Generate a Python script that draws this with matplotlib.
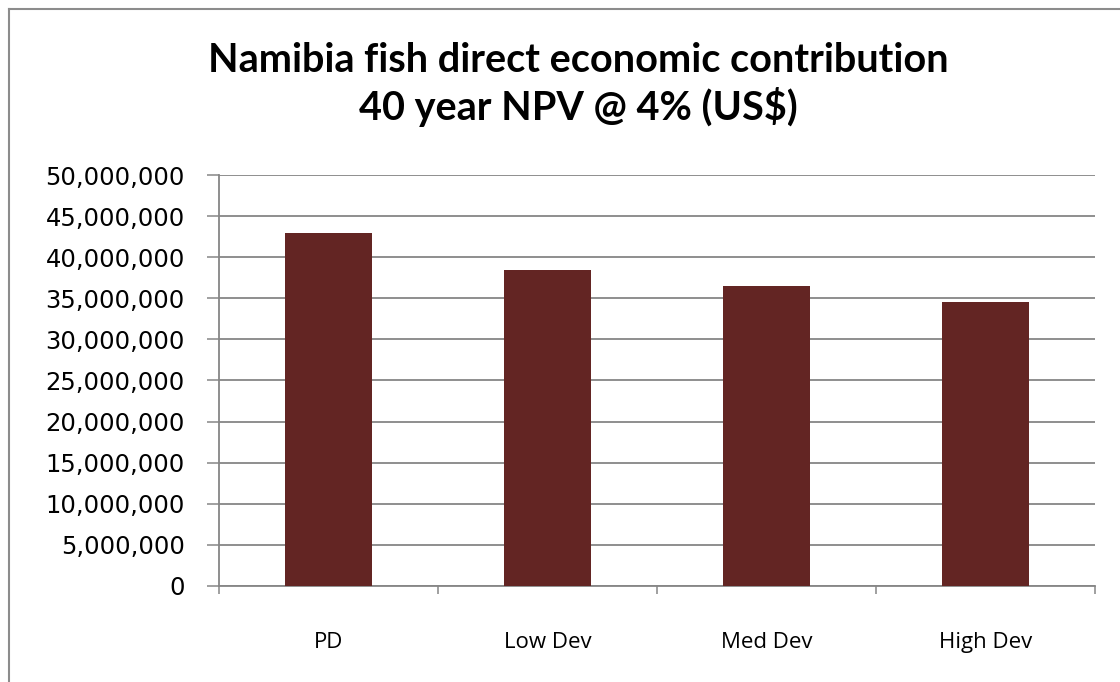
import matplotlib
matplotlib.use("Agg")
import matplotlib.pyplot as plt
from matplotlib.lines import Line2D
from matplotlib.ticker import FuncFormatter

# Scenario values
scenarios = ["PD", "Low Dev", "Med Dev", "High Dev"]
npv_usd = [43_000_000, 38_400_000, 36_500_000, 34_500_000]
y_ticks = list(range(0, 50_000_001, 5_000_000))

grey = "#868686"

fig = plt.figure(figsize=(11.2, 6.82), dpi=100)
ax = fig.add_axes([0.1955, 0.1408, 0.7822, 0.6026])

x = range(len(scenarios))
ax.bar(x, npv_usd, width=0.4, color="#632523", zorder=3)

ax.set_xlim(-0.5, len(scenarios) - 0.5)
ax.set_ylim(0, 50_000_000)
ax.set_yticks(y_ticks)
ax.yaxis.set_major_formatter(FuncFormatter(lambda v, p: f"{int(v):,}"))
ax.tick_params(axis="y", direction="out", length=8.5, width=1.1, color=grey,
               labelsize=17.5, pad=16)
for lab in ax.get_yticklabels():
    lab.set_family("DejaVu Sans")

ax.set_xticks(list(x))
ax.set_xticklabels(scenarios, family="Open Sans", fontsize=16)
ax.tick_params(axis="x", length=0, pad=33)
ax.set_xticks([i - 0.5 for i in range(len(scenarios) + 1)], minor=True)
ax.tick_params(axis="x", which="minor", direction="out", length=6, width=1.1, color=grey)

ax.grid(axis="y", color=grey, linewidth=1.3, zorder=0)
for side in ["top", "right"]:
    ax.spines[side].set_visible(False)
for side in ["left", "bottom"]:
    ax.spines[side].set_color(grey)
    ax.spines[side].set_linewidth(1.3)

fig.text(0.5165, 0.911, "Namibia fish direct economic contribution",
         ha="center", va="center", fontsize=28.5, fontweight="bold", family="Lato")
fig.text(0.5165, 0.843, "40 year NPV @ 4% (US$)",
         ha="center", va="center", fontsize=28.5, fontweight="bold", family="Lato")

# chart-area border (only top and left edges are visible in the crop)
fig.add_artist(Line2D([8.5 / 1120, 8.5 / 1120], [0, 1 - 8.5 / 682],
                      transform=fig.transFigure, color="#8c8c8c", linewidth=1.5))
fig.add_artist(Line2D([8.5 / 1120, 1], [1 - 8.5 / 682, 1 - 8.5 / 682],
                      transform=fig.transFigure, color="#8c8c8c", linewidth=1.5))

fig.savefig("out.png", dpi=100)
